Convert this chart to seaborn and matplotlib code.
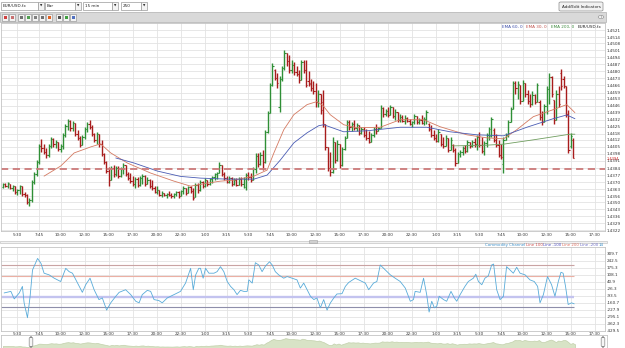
import numpy as np
import seaborn as sns
import matplotlib.pyplot as plt
from matplotlib.patches import Rectangle, FancyBboxPatch

sns.set_theme(style="white")
plt.rcParams["font.family"] = ["DejaVu Sans"]

W, H = 625, 348

# ================================================================
#  DADOS (precos em pips acima de 1.4300, barras de 15 min)
# ================================================================
BASE = 1.4300
FIRST_BAR = -6          # barra 0 = 5:30 do primeiro dia
SUPPORT = 83            # linha tracejada (1.4383)

bar_open = [65, 68, 66, 68, 64, 66, 60, 62, 66, 58,
            57, 50, 52, 70, 78, 90, 106, 104, 100, 97,
            106, 113, 108, 110, 103, 106, 117, 126, 131, 124,
            129, 118, 114, 107, 115, 123, 128, 125, 118, 112,
            118, 108, 98, 90, 81, 72, 84, 78, 84, 76,
            83, 87, 78, 74, 71, 68, 73, 67, 74, 76,
            68, 72, 66, 64, 60, 62, 57, 59, 57, 58,
            57, 56, 58, 60, 56, 61, 64, 59, 65, 61,
            55, 67, 62, 70, 66, 72, 68, 73, 75, 78,
            79, 87, 78, 74, 70, 74, 68, 72, 67, 73,
            68, 65, 77, 75, 72, 83, 96, 88, 97, 90,
            120, 139, 166, 181, 173, 145, 172, 183, 198, 190,
            181, 186, 179, 177, 171, 189, 181, 170, 168, 163,
            160, 150, 158, 150, 128, 105, 84, 80, 110, 92,
            108, 87, 103, 114, 130, 125, 128, 124, 127, 119,
            123, 117, 114, 110, 117, 123, 121, 124, 144, 138,
            141, 137, 145, 136, 140, 132, 135, 131, 134, 131,
            128, 130, 136, 130, 132, 129, 133, 128, 123, 117,
            114, 111, 118, 108, 106, 114, 102, 107, 102, 89,
            98, 100, 104, 101, 110, 106, 110, 108, 115, 107,
            101, 109, 117, 116, 122, 112, 107, 97, 88, 112,
            117, 130, 143, 168, 163, 166, 151, 168, 158, 151,
            148, 157, 150, 150, 135, 130, 146, 162, 174, 152,
            132, 158, 178, 172, 165, 138, 106, 112]
bar_high = [69, 69, 70, 68, 67, 66, 63, 67, 66, 60,
            58, 54, 72, 80, 92, 108, 113, 108, 104, 108,
            115, 114, 112, 110, 108, 119, 128, 133, 132, 131,
            129, 122, 116, 117, 125, 130, 132, 127, 119, 120,
            118, 112, 99, 91, 85, 86, 87, 86, 86, 85,
            89, 87, 80, 79, 76, 75, 75, 76, 78, 77,
            75, 73, 72, 66, 66, 62, 61, 59, 59, 61,
            59, 59, 61, 61, 62, 66, 64, 66, 66, 64,
            69, 69, 72, 71, 74, 72, 74, 76, 79, 80,
            90, 87, 80, 76, 76, 75, 74, 74, 75, 75,
            75, 79, 80, 79, 85, 99, 99, 100, 102, 122,
            141, 168, 188, 182, 178, 175, 185, 201, 198, 196,
            191, 189, 185, 181, 191, 191, 191, 180, 172, 170,
            168, 161, 158, 161, 128, 105, 100, 115, 110, 112,
            108, 105, 116, 132, 132, 130, 132, 129, 127, 125,
            125, 123, 121, 119, 125, 128, 125, 147, 145, 143,
            145, 147, 145, 143, 140, 138, 137, 137, 135, 133,
            131, 138, 136, 134, 137, 135, 142, 129, 127, 122,
            118, 123, 118, 115, 117, 114, 115, 108, 104, 100,
            102, 106, 107, 112, 110, 112, 114, 117, 120, 115,
            111, 119, 125, 135, 124, 118, 112, 108, 115, 119,
            132, 145, 170, 170, 170, 166, 171, 168, 161, 158,
            160, 158, 168, 152, 141, 148, 165, 178, 175, 152,
            161, 165, 182, 175, 165, 142, 119, 114]
bar_low = [64, 65, 64, 63, 61, 58, 57, 58, 56, 55,
           48, 46, 50, 68, 76, 88, 100, 98, 94, 95,
           104, 105, 104, 101, 100, 103, 115, 122, 121, 121,
           116, 112, 105, 107, 113, 120, 123, 116, 110, 108,
           105, 96, 88, 79, 66, 72, 75, 76, 74, 75,
           78, 76, 72, 69, 66, 64, 65, 66, 68, 66,
           68, 64, 62, 59, 58, 56, 55, 56, 54, 56,
           54, 54, 56, 54, 56, 58, 57, 59, 59, 52,
           55, 59, 61, 64, 65, 66, 67, 69, 72, 73,
           79, 76, 72, 69, 69, 66, 67, 66, 67, 66,
           64, 62, 72, 70, 72, 79, 85, 87, 82, 89,
           119, 139, 165, 171, 163, 140, 170, 181, 185, 178,
           178, 176, 175, 168, 171, 178, 164, 165, 160, 158,
           145, 145, 138, 125, 102, 81, 76, 79, 89, 91,
           84, 86, 102, 114, 122, 121, 122, 121, 117, 118,
           115, 112, 109, 110, 115, 118, 121, 124, 135, 136,
           135, 137, 134, 132, 130, 130, 130, 128, 130, 127,
           125, 128, 128, 128, 128, 127, 128, 121, 115, 112,
           110, 110, 106, 104, 106, 100, 102, 100, 86, 89,
           95, 97, 99, 100, 104, 105, 105, 102, 105, 99,
           97, 105, 112, 115, 110, 105, 95, 93, 79, 112,
           115, 130, 143, 158, 153, 148, 151, 155, 148, 145,
           147, 148, 150, 132, 127, 130, 138, 148, 155, 128,
           132, 145, 161, 163, 135, 99, 104, 94]
bar_close = [68, 66, 69, 64, 66, 60, 62, 66, 58, 57,
             50, 52, 70, 78, 90, 106, 104, 100, 97, 106,
             113, 108, 110, 103, 106, 117, 126, 131, 124, 129,
             118, 114, 107, 115, 123, 128, 125, 118, 112, 118,
             108, 98, 90, 81, 72, 84, 78, 84, 76, 83,
             87, 78, 74, 71, 68, 73, 67, 74, 76, 68,
             72, 66, 64, 60, 62, 57, 59, 57, 58, 57,
             56, 58, 60, 56, 61, 64, 59, 65, 61, 54,
             67, 62, 70, 66, 72, 68, 73, 75, 78, 79,
             87, 78, 74, 70, 74, 68, 72, 67, 73, 68,
             73, 77, 75, 72, 83, 96, 88, 97, 90, 120,
             139, 166, 185, 173, 168, 172, 183, 198, 190, 181,
             186, 179, 177, 171, 189, 181, 166, 167, 163, 160,
             150, 158, 142, 128, 105, 84, 80, 110, 92, 108,
             87, 103, 114, 130, 125, 128, 124, 127, 119, 123,
             117, 114, 110, 117, 123, 121, 124, 144, 138, 141,
             137, 145, 136, 140, 132, 135, 131, 134, 131, 128,
             130, 136, 130, 132, 129, 133, 140, 123, 117, 114,
             111, 120, 108, 106, 114, 102, 112, 102, 89, 98,
             100, 104, 101, 110, 106, 110, 108, 115, 107, 101,
             109, 117, 123, 133, 112, 107, 97, 95, 112, 117,
             130, 143, 168, 163, 167, 151, 168, 158, 151, 148,
             157, 150, 166, 135, 130, 146, 162, 174, 158, 132,
             158, 148, 165, 165, 138, 102, 116, 94]

# medias moveis (barra, pips)
ema30_bar = [11.1, 18, 23.6, 30.5, 34.6, 38.8, 45.7, 55.4, 65.1, 72, 78.9, 84.4, 90, 98.3,
             103.8, 106.6, 110.7, 114.9, 120.4, 124.5, 127, 130, 135.6, 141.1, 150.8, 159.1,
             168.8, 175.7, 186.8, 195, 202, 207.5, 214.4, 222.7, 228.3, 231.7]
ema30_pips = [76, 86, 99, 105, 108, 99, 89, 79, 71, 66, 69, 71, 72, 76,
              82, 99, 122, 137, 147, 150, 146, 137, 127, 124, 124.5, 132,
              132, 125, 117, 114, 113, 122, 135, 142, 147, 139]
ema60_bar = [40.9, 48.5, 58.2, 67.8, 76.1, 87.2, 98.3, 103.8, 109.3, 114.9, 120.4, 125.2,
             127.3, 135.6, 145.3, 159.1, 170.2, 179.8, 190.9, 202, 211.7, 222.7, 228.3, 231.7]
ema60_pips = [94, 89, 81, 75.7, 74, 73, 73, 77, 92, 109, 119, 126,
              127, 120, 121, 124.5, 124.5, 120, 117, 116, 124.5, 133, 136.7, 133]
ema200_bar = [181.2, 195, 202, 214.4, 229.6, 231.7]
ema200_pips = [106, 106.7, 107.7, 112, 117.6, 117.6]

# eixo de tempo
time_labels = ["5:30", "7:45", "10:00", "12:30", "15:00", "17:30", "20:00", "22:30", "1:00",
               "3:15", "5:30", "7:45", "10:00", "12:30", "15:00", "17:30", "20:00", "22:30",
               "1:00", "3:15", "5:30", "7:45", "10:00", "12:30", "15:00", "17:30"]
time_bars = [0, 9, 18, 28, 38, 48, 58, 68, 78, 87, 96, 105, 114, 124, 134, 144, 154, 164,
             174, 183, 192, 201, 210, 220, 230, 240]

price_labels = ["1.4322", "1.4329", "1.4336", "1.4343", "1.4350", "1.4356", "1.4363", "1.4370",
                "1.4377", "1.4384", "1.4391", "1.4398", "1.4405", "1.4412", "1.4418", "1.4425",
                "1.4432", "1.4439", "1.4446", "1.4453", "1.4459", "1.4466", "1.4473", "1.4480",
                "1.4487", "1.4494", "1.4501", "1.4508", "1.4514", "1.4521"]

# CCI (14)
cci_bar = [-5.5, -2.7, -1.3, 0.8, 2.1, 2.8, 4.2, 5.3, 6.3, 8.4,
           9.8, 11.1, 13.2, 15.3, 18.0, 20.1, 21.5, 22.9, 25.0, 27.0,
           28.4, 30.2, 31.9, 33.9, 35.3, 37.1, 38.8, 40.9, 42.3, 45.0,
           47.1, 49.2, 50.6, 51.9, 54.0, 55.4, 56.8, 58.8, 60.2, 62.3,
           65.1, 67.8, 69.9, 72.0, 73.1, 74.1, 75.4, 76.1, 77.2, 78.2,
           79.6, 80.3, 81.7, 83.0, 84.4, 85.8, 87.2, 88.6, 90.0, 91.3,
           92.7, 94.1, 95.5, 96.2, 97.6, 98.9, 100.3, 101.7, 103.1, 104.8,
           105.9, 107.2, 108.6, 110.7, 112.1, 114.2, 116.2, 117.6, 119.0, 120.4,
           121.8, 123.2, 124.5, 125.9, 127.3, 128.7, 130.1, 131.5, 132.8, 134.9,
           136.3, 137.7, 140.4, 143.2, 144.6, 146.0, 148.0, 149.4, 150.8, 152.9,
           155.0, 157.0, 159.1, 161.2, 163.3, 164.6, 165.3, 167.4, 168.8, 170.1,
           171.1, 172.2, 173.3, 174.3, 175.3, 177.1, 178.4, 180.2, 181.6, 182.6,
           184.0, 186.0, 187.4, 189.5, 190.5, 191.6, 193.0, 194.3, 195.7, 197.1,
           197.9, 199.2, 200.6, 202.0, 203.3, 204.7, 206.1, 207.5, 208.9, 211.0,
           213.0, 214.8, 216.2, 217.2, 218.6, 220.3, 222.0, 223.4, 224.8, 225.9,
           226.8, 227.8, 228.9, 230.3, 231.4]
cci_val = [-65, -50, -122, -65, -2, -160, -303, -97, 156, 267,
           220, 125, 109, 77, 45, 172, 140, 125, 30, -59,
           14, 77, -34, -129, -113, -230, -160, -97, -59, -34,
           -81, -145, -160, -81, -40, -50, -129, -138, -160, -113,
           -81, -50, 30, 172, -34, 109, 172, 172, 77, 172,
           125, 125, 125, 140, 188, 140, 45, -2, -34, -81,
           -40, -50, -50, 61, 30, 226, 204, 140, 194, 235,
           204, 140, 109, 77, 93, 77, 61, -18, 30, -34,
           -97, -129, -113, -208, -129, -230, -160, -113, -75, -72,
           -2, 36, 77, 45, 30, -34, 30, 45, 204, 156,
           109, 77, 45, -18, -145, -129, -50, -59, 77, -81,
           -249, -145, -208, -192, -97, -129, -145, -50, -113, -145,
           -81, -2, 45, 77, 115, 45, 14, 77, 99, 204,
           213, -34, -129, -97, 188, 156, 125, 182, 125, 109,
           61, 45, -2, -160, -81, 93, 14, -97, 45, 134,
           125, -2, -176, -160, -170]
cci_ticks = [309.7, 242.5, 175.3, 108.1, 40.9, -26.3, -93.5, -160.7, -227.9, -295.1, -362.3, -429.5]
cci_levels = [200, 100, -100, -200]
cci_level_colors = ["#c9a3a3", "#ebb0a4", "#c3c3ef", "#8e8eaa"]
cci_level_widths = [0.8, 0.8, 1.7, 0.8]

# ================================================================
#  FIGURA
# ================================================================
fig = plt.figure(figsize=(W / 100, H / 100), dpi=100)
fig.patch.set_facecolor("white")
renderer = fig.canvas.get_renderer()


def px_axes(x0, y0, x1, y1):
    return fig.add_axes([x0 / W, 1 - y1 / H, (x1 - x0) / W, (y1 - y0) / H])


def box(x, y, w, h, fc, ec="#a8a8a8", lw=0.5):
    fig.patches.append(Rectangle((x / W, 1 - (y + h) / H), w / W, h / H, transform=fig.transFigure,
                                 facecolor=fc, edgecolor=ec, linewidth=lw))


def txt(x, y, s, size=3.0, color="#222222", ha="left", **kw):
    return fig.text(x / W, 1 - y / H, s, fontsize=size, color=color, ha=ha, va="center", **kw)


def legenda(x_right, y, itens, size=3.0, gap=1.5):
    # escreve da direita para a esquerda, medindo cada texto
    xr = x_right
    for s, col in reversed(itens):
        t = txt(xr, y, s, size=size, color=col, ha="right")
        xr -= t.get_window_extent(renderer).width + gap


XLIM = (-6.8, 244.2)
FS = 3.0
grid_col = "#e3e3e3"
edge_col = "#c4c4c4"

# ---------------- barra de ferramentas ----------------
for name, x0, w in [("EUR/USD.fx", 1, 37), ("Bar", 45, 30), ("15 min", 83, 29), ("250", 121, 20)]:
    box(x0, 1.5, w, 8, "white", "#9a9a9a")
    box(x0 + w, 1.5, 6, 8, "#f4f4f4", "#9a9a9a")
    txt(x0 + 2, 5.7, name, size=FS)
    txt(x0 + w + 3, 5.7, "\u25bc", size=2.2, ha="center")
fig.patches.append(FancyBboxPatch((559 / W, 1 - 11 / H), 44 / W, 9 / H, transform=fig.transFigure,
                                  boxstyle="round,pad=0,rounding_size=0.003",
                                  facecolor="#f2f2f2", edgecolor="#8a8a8a", linewidth=0.5))
txt(581, 6.5, "Add/Edit Indicators", size=FS, ha="center")

box(0, 12, 606, 10, "#d9d9d9", "#b0b0b0")
icon_cols = ["#d04040", "#c87070", "#707070", "#50a050", "#808080", "#707070", "#e06020",
             "#505050", "#40a040", "#5070c0"]
for k, x0 in enumerate([2, 9, 18, 25, 32, 39, 46, 56, 63, 70]):
    box(x0, 13.5, 6, 7, "#f3f3f3", "#8c8c8c", 0.4)
    box(x0 + 1.5, 15.5, 3, 3, icon_cols[k], "none")
fig.patches.append(plt.Circle((601 / W, 1 - 17 / H), 2.8 / W, transform=fig.transFigure,
                              facecolor="#f0f0f0", edgecolor="#8a8a8a", linewidth=0.4))
txt(601, 17, "i", size=2.4, ha="center", color="#555555")

# ---------------- grafico principal ----------------
ax = px_axes(1, 23, 605, 231)
x = np.arange(len(bar_close)) + FIRST_BAR
o = BASE + np.array(bar_open) / 1e4
hi = BASE + np.array(bar_high) / 1e4
lo = BASE + np.array(bar_low) / 1e4
c = BASE + np.array(bar_close) / 1e4
cols = np.where(c >= o, "#2f8f36", "#a81c1c")

ax.vlines(x, lo, hi, colors=cols, linewidth=1.0)
ax.hlines(o, x - 0.5, x, colors=cols, linewidth=0.8)
ax.hlines(c, x, x + 0.5, colors=cols, linewidth=0.8)

sns.lineplot(x=ema30_bar, y=BASE + np.array(ema30_pips) / 1e4, ax=ax, color="#d47a62",
             linewidth=0.6, estimator=None)
sns.lineplot(x=ema60_bar, y=BASE + np.array(ema60_pips) / 1e4, ax=ax, color="#4a5cb4",
             linewidth=0.6, estimator=None)
sns.lineplot(x=ema200_bar, y=BASE + np.array(ema200_pips) / 1e4, ax=ax, color="#6f9d5f",
             linewidth=0.6, estimator=None)
ax.axhline(BASE + SUPPORT / 1e4, color="#cc7a7a", linewidth=1.3, dashes=(4, 2.5))

ax.set_xlim(*XLIM)
ax.set_ylim(1.43215, 1.4528)
ax.set_xticks(time_bars)
ax.set_xticklabels(time_labels)
ax.set_yticks([float(p) for p in price_labels])
ax.set_yticklabels(price_labels)
ax.yaxis.tick_right()
ax.tick_params(axis="both", length=0, labelsize=FS, colors="#333333")
ax.tick_params(axis="x", pad=1.2)
ax.tick_params(axis="y", pad=1.5)
ax.grid(True, color=grid_col, linewidth=0.6)
ax.set_axisbelow(True)
for s in ax.spines.values():
    s.set_color(edge_col)
    s.set_linewidth(0.6)
ax.annotate(f"{c[-1]:.4f}", xy=(1, c[-1]), xycoords=("axes fraction", "data"), xytext=(1.5, -0.6),
            textcoords="offset points", fontsize=2.6, color="#d02020", va="center", ha="left")

legenda(602, 27, [("EMA 60, 0", "#3a4ca8"), ("EMA 30, 0", "#c0504a"),
                  ("EMA 200, 0", "#3c8a3c"), ("EUR/USD.fx", "#222222")], gap=4)

# separador
box(0, 240.5, 607, 2, "#f2f2f2", "#b8b8b8", 0.4)
box(309, 240, 8, 3, "#d0d0d0", "#a0a0a0", 0.4)

# ---------------- CCI ----------------
ax2 = px_axes(1, 247, 605, 331)
for lev, col, lw in zip(cci_levels, cci_level_colors, cci_level_widths):
    ax2.hlines(lev, XLIM[0], x[-1] + 0.5, color=col, linewidth=lw)
sns.lineplot(x=cci_bar, y=cci_val, ax=ax2, color="#58abd9", linewidth=0.6, estimator=None)
ax2.set_xlim(*XLIM)
ax2.set_ylim(-431, 377)
ax2.set_xticks(time_bars)
ax2.set_xticklabels(time_labels)
ax2.set_yticks(cci_ticks)
ax2.set_yticklabels([f"{v:.1f}" for v in cci_ticks])
ax2.yaxis.tick_right()
ax2.tick_params(axis="both", length=0, labelsize=FS, colors="#333333")
ax2.tick_params(axis="x", pad=0.6)
ax2.tick_params(axis="y", pad=1.5)
ax2.grid(True, color=grid_col, linewidth=0.6)
ax2.set_axisbelow(True)
for s in ax2.spines.values():
    s.set_color(edge_col)
    s.set_linewidth(0.6)

legenda(604, 245, [("Commodity Channel", "#3c8fc8"), ("Line 100", "#d05050"),
                   ("Line -100", "#5050c0"), ("Line 200", "#e07060"),
                   ("Line -200", "#7070c8"), ("14", "#3c8fc8")], size=2.8, gap=0.8)

# ---------------- navegador ----------------
ax3 = px_axes(1, 335, 607, 348)
ax3.fill_between(x, 0, bar_close, color="#d8e3c6", edgecolor="#c2d0ab", linewidth=0.5)
ax3.set_xlim(*XLIM)
ax3.set_ylim(33, 251)
ax3.set_xticks([])
ax3.set_yticks([])
for s in ax3.spines.values():
    s.set_color(edge_col)
    s.set_linewidth(0.6)
for hx in (31, 603):
    fig.patches.append(FancyBboxPatch(((hx - 1.8) / W, 1 - 347 / H), 3.6 / W, 10 / H,
                                      transform=fig.transFigure,
                                      boxstyle="round,pad=0,rounding_size=0.004",
                                      facecolor="#f6f6f6", edgecolor="#8a8a8a", linewidth=0.5))

fig.savefig("out.png", dpi=100, facecolor="white")
